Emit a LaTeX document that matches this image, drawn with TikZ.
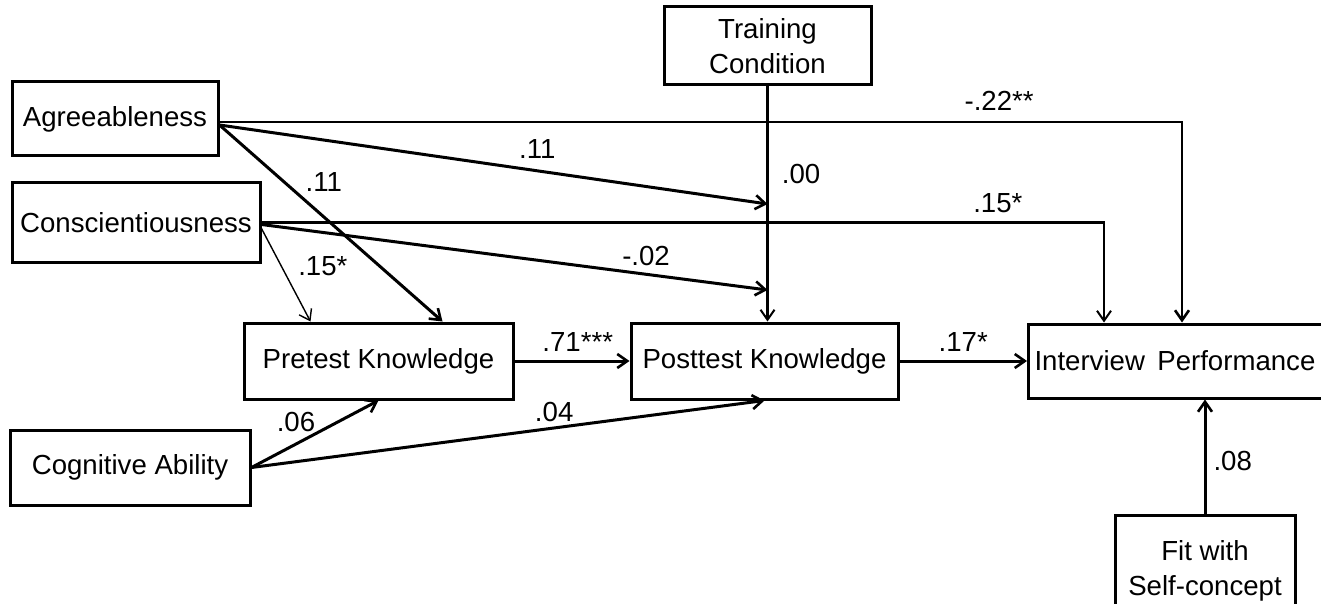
\documentclass[tikz,border=0pt]{standalone}
\usepackage{fontspec}
\setmainfont{Liberation Sans}
\usepackage{tikz}
\usetikzlibrary{arrows.meta,positioning,calc}
\tikzset{
  varbox/.style={rectangle, draw, line width=1.5pt, align=center, inner sep=0pt, font=\fontsize{13.8}{17.5}\selectfont},
  arrow/.style={-{Straight Barb[length=5pt, width=7pt, line width=1.3pt]}, line width=1.5pt},
  midarrow/.style={-{Straight Barb[length=5pt, width=7pt, line width=1pt]}, line width=1.2pt},
  thinarrow/.style={-{Straight Barb[length=5pt, width=7pt, line width=0.7pt]}, line width=0.7pt},
  coef/.style={font=\fontsize{13.8}{16}\selectfont, inner sep=2pt},
}

\begin{document}
\begin{tikzpicture}[x=0.5pt, y=-0.5pt]
  \useasboundingbox (0,0) rectangle (1321,604);

  % Predictors
  \node[varbox, minimum width=103pt, minimum height=37pt] (agree) at (115,119) {Agreeableness};
  \node[varbox, minimum width=124pt, minimum height=39.5pt] (consc) at (136,222.5) {Conscientiousness};
  \node[varbox, minimum width=120pt, minimum height=37.5pt] (cogn) at (130,467.5) {Cognitive Ability};
  \node[varbox, minimum width=103.5pt, minimum height=39pt] (train) at (767.5,46) {Training\\Condition};

  % Knowledge and outcome
  \node[varbox, minimum width=134.5pt, minimum height=38pt] (pretest) at (378.5,361) {Pretest Knowledge};
  \node[varbox, minimum width=133.5pt, minimum height=38pt] (posttest) at (764.5,361) {Posttest Knowledge};
  \node[varbox, anchor=west, text width=152pt, align=left, inner xsep=3pt, minimum height=37pt] (interview) at (1027,361) {Interview\hspace{0.45em}Performance};
  \node[varbox, minimum width=90pt, minimum height=56pt] (fit) at (1205,571) {Fit with\\Self-concept};

  % Points on the training path
  \coordinate (modA) at (train.south |- 0,204);
  \coordinate (modC) at (train.south |- 0,290);
  \coordinate (inA) at (1182,0);
  \coordinate (inC) at (1104,0);

  % Connections
  \draw[arrow, line width=1.3pt] ([yshift=-1.5pt]agree.east) -| (inA |- interview.north)
    node[pos=0.405, above=3pt, coef] {-.22**};
  \draw[arrow] ([yshift=-3pt]agree.east) -- (modA)
    node[pos=0.58, above=3.5pt, coef] {.11};
  \draw[arrow] ([yshift=-3pt]agree.east) -- ([xshift=32pt]pretest.north)
    node[pos=0.29, right=8pt, coef] {.11};
  \draw[midarrow, line width=1.05pt] (consc.east) -| (inC |- interview.north)
    node[pos=0.437, above=2.5pt, coef] {.15*};
  \draw[arrow] ([yshift=-1pt]consc.east) -- (modC)
    node[pos=0.76, above=1.5pt, coef] {-.02};
  \draw[thinarrow] ([yshift=-3pt]consc.east) -- ([xshift=-34pt]pretest.north)
    node[pos=0.41, right=6pt, coef] {.15*};
  \draw[midarrow, line width=1.4pt] (train.south) -- (train.south |- posttest.north)
    node[pos=0.374, right=4.5pt, coef] {.00};
  \draw[arrow] (pretest) -- (posttest)
    node[pos=0.55, above=2pt, coef] {.71***};
  \draw[arrow] (posttest) -- (interview)
    node[midway, above=2pt, coef] {.17*};
  \draw[arrow] (cogn.east) -- (pretest.south)
    node[pos=0.35, above=3.5pt, coef] {.06};
  \draw[arrow] (cogn.east) -- (posttest.south)
    node[pos=0.59, above=0.5pt, coef] {.04};
  \draw[arrow] (fit.north) -- (fit.north |- interview.south)
    node[pos=0.46, right=1.5pt, coef] {.08};

\end{tikzpicture}
\end{document}
